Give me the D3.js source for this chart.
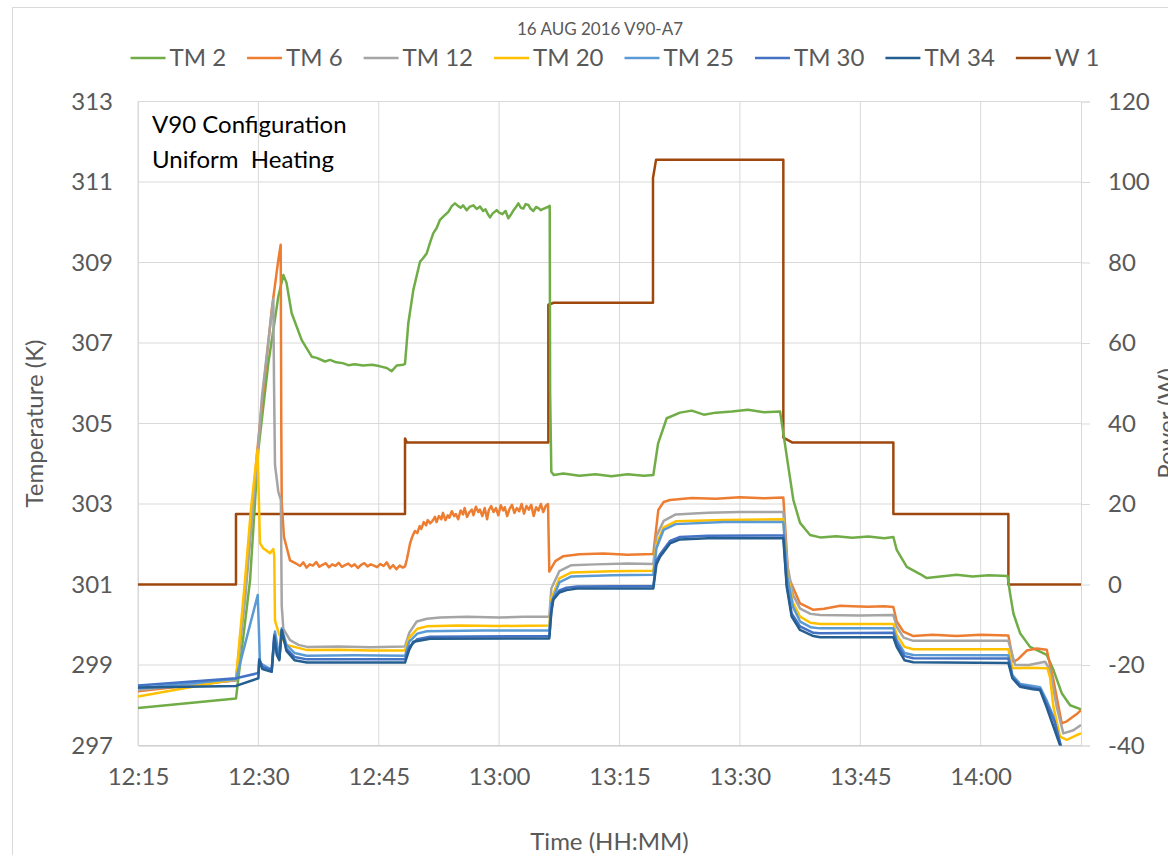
<!DOCTYPE html>
<html>
<head>
<meta charset="utf-8">
<script src="https://cdn.jsdelivr.net/npm/d3@7"></script>
<style>
  body { margin: 0; background: #fff; }
  svg { display: block; font-family: Lato, "Open Sans", sans-serif; }
</style>
</head>
<body>
<svg id="chart" width="1168" height="855"></svg>
<script>
// times are minutes after 12:00
const xTickLabels = ["12:15", "12:30", "12:45", "13:00", "13:15", "13:30", "13:45", "14:00"];
const yTicksLeft = [297, 299, 301, 303, 305, 307, 309, 311, 313];
const yTicksRight = [-40, -20, 0, 20, 40, 60, 80, 100, 120];

const seriesNames = ["TM 2", "TM 6", "TM 12", "TM 20", "TM 25", "TM 30", "TM 34", "W 1"];
const seriesColors = ["#70AD47", "#ED7D31", "#A5A5A5", "#FFC000", "#5B9BD5", "#4472C4", "#255E91", "#9E480E"];

const tm2 = [[15,297.93],[27.21,298.17],[28.96,301.1],[29.99,304.34],[31.24,306.5],[32.48,308.15],[33.11,308.69],[33.5,308.5],[34.15,307.74],[35.4,307.07],[36.65,306.66],[37.27,306.63],[38.3,306.54],[38.93,306.58],[39.7,306.52],[40.5,306.5],[41.2,306.45],[42,306.47],[43.04,306.44],[44.2,306.46],[45.16,306.42],[46,306.38],[46.61,306.3],[47.24,306.44],[48.02,306.46],[48.27,306.48],[48.68,307.49],[49.31,308.32],[50.14,309.02],[50.5,309.1],[50.98,309.23],[51.4,309.5],[51.8,309.73],[52.2,309.85],[52.63,310.06],[53.1,310.15],[53.67,310.26],[54.1,310.4],[54.5,310.47],[54.9,310.4],[55.2,310.36],[55.5,310.42],[55.96,310.3],[56.3,310.38],[56.8,310.42],[57.2,310.33],[57.62,310.39],[58,310.28],[58.3,310.32],[58.6,310.2],[58.86,310.12],[59.2,310.22],[59.7,310.3],[60,310.24],[60.4,310.2],[60.8,310.28],[61.14,310.1],[61.5,310.2],[61.8,310.3],[62.1,310.38],[62.39,310.47],[62.7,310.36],[63.01,310.34],[63.3,310.45],[63.64,310.43],[63.9,310.34],[64.26,310.28],[64.6,310.38],[64.9,310.35],[65.2,310.3],[65.5,310.33],[65.8,310.36],[66.09,310.38],[66.3,310.41],[66.35,305.8],[66.5,303.8],[66.8,303.72],[68,303.76],[70,303.7],[72,303.74],[74,303.69],[76,303.74],[78,303.7],[79.21,303.72],[79.8,304.5],[80.88,305.13],[82.54,305.27],[84,305.32],[85.5,305.22],[87,305.27],[89,305.3],[91,305.34],[93,305.28],[95,305.3],[95.5,304.64],[96.03,303.93],[96.66,303.1],[97.49,302.53],[98.74,302.23],[99.99,302.17],[102,302.2],[104,302.16],[106,302.19],[108,302.15],[109.12,302.18],[109.54,301.86],[110.79,301.44],[112.45,301.26],[113.28,301.16],[115,301.2],[117,301.24],[119,301.2],[121,301.23],[123.35,301.21],[123.66,300.78],[124.08,300.28],[124.91,299.79],[126.15,299.45],[127.4,299.33],[128.23,299.25],[129.06,298.88],[130.1,298.3],[131.14,298.0],[132.5,297.9]];

const tm6 = [[15,298.35],[27.21,298.62],[28.33,300.8],[29.79,304.18],[30.45,305.5],[31.66,307.82],[32.48,309.06],[32.78,309.44],[32.85,305.0],[32.91,303.03],[33.19,302.18],[33.94,301.6],[34.78,301.51],[35.2,301.46],[35.6,301.55],[36,301.42],[36.4,301.5],[36.8,301.47],[37.2,301.56],[37.6,301.44],[38,301.49],[38.4,301.53],[38.8,301.43],[39.2,301.5],[39.6,301.46],[40,301.54],[40.4,301.44],[40.8,301.48],[41.2,301.52],[41.6,301.45],[42,301.5],[42.4,301.41],[42.8,301.49],[43.2,301.53],[43.6,301.45],[44,301.5],[44.4,301.47],[44.8,301.43],[45.2,301.51],[45.6,301.46],[46,301.55],[46.4,301.4],[46.8,301.48],[47.2,301.38],[47.6,301.47],[48,301.42],[48.27,301.45],[48.5,301.62],[48.9,302.02],[49.2,302.2],[49.5,302.33],[49.8,302.28],[50.1,302.45],[50.3,302.38],[50.6,302.55],[50.9,302.47],[51.1,302.6],[51.4,302.52],[51.7,302.58],[52,302.68],[52.2,302.55],[52.5,302.7],[52.8,302.62],[53,302.78],[53.3,302.6],[53.6,302.72],[53.8,302.66],[54.1,302.82],[54.4,302.7],[54.6,302.75],[54.9,302.62],[55.2,302.84],[55.5,302.74],[55.7,302.9],[56,302.68],[56.3,302.8],[56.6,302.86],[56.8,302.72],[57.1,302.93],[57.4,302.8],[57.6,302.86],[57.9,302.7],[58.2,302.9],[58.5,302.62],[58.7,302.84],[59,302.95],[59.3,302.8],[59.6,302.9],[59.9,302.72],[60.2,302.97],[60.5,302.84],[60.7,302.92],[61,302.7],[61.3,302.88],[61.6,302.98],[61.9,302.78],[62.2,302.9],[62.5,302.82],[62.8,303.0],[63.1,302.76],[63.4,302.95],[63.7,302.86],[64,302.98],[64.3,302.7],[64.6,302.92],[64.9,302.84],[65.2,303.0],[65.5,302.8],[65.8,302.95],[66.09,303.0],[66.25,301.32],[67,301.58],[67.96,301.7],[70,301.75],[73,301.77],[76,301.74],[79.21,301.76],[79.83,302.85],[80.5,303.05],[81.29,303.1],[84,303.15],[87,303.13],[90,303.17],[93,303.14],[95.41,303.16],[96.03,301.19],[97.49,300.53],[99.15,300.37],[100.5,300.4],[102.5,300.47],[104,300.46],[106,300.45],[108,300.46],[109.12,300.44],[109.54,300.08],[110.37,299.83],[111.61,299.72],[114,299.75],[117,299.72],[120,299.75],[123.45,299.73],[124.08,299.08],[124.7,299.15],[125.74,299.36],[126.99,299.41],[128.23,299.38],[129.06,298.63],[130.1,297.55],[130.73,297.6],[131.97,297.78],[132.5,297.88]];

const tm12 = [[15,298.38],[27.21,298.62],[28.33,300.6],[29.99,304.45],[30.45,305.68],[31.86,308.1],[31.95,306.0],[32.07,303.97],[32.48,303.31],[32.8,303.1],[32.91,300.47],[33.11,299.9],[33.94,299.62],[35,299.5],[36.06,299.45],[40,299.46],[44,299.44],[48.27,299.46],[48.8,299.8],[49.73,300.08],[51,300.15],[52.63,300.18],[56,300.2],[60,300.18],[63,300.2],[66.25,300.2],[66.5,300.9],[67.5,301.33],[69,301.48],[72,301.5],[76,301.52],[79.21,301.51],[79.6,302.2],[80.5,302.58],[82,302.74],[86,302.78],[90,302.8],[95.41,302.8],[95.9,301.5],[96.6,300.75],[97.5,300.4],[98.8,300.27],[100,300.24],[105,300.23],[109.12,300.24],[109.54,299.95],[110.4,299.68],[111.6,299.6],[117,299.6],[123.45,299.6],[124.29,299.0],[126,299.0],[128.02,299.08],[128.64,298.88],[129.47,297.96],[130.3,297.3],[131.55,297.38],[132.5,297.51]];

const tm20 = [[15,298.22],[27.21,298.65],[28.33,301.1],[29.1,302.93],[29.9,304.35],[30.2,302.03],[30.6,301.9],[31.45,301.78],[31.86,301.88],[31.98,301.7],[32.07,300.1],[32.6,299.75],[33.5,299.5],[36.06,299.37],[40,299.38],[44,299.36],[48.27,299.36],[48.8,299.68],[49.8,299.9],[51,299.96],[55,299.98],[60,299.97],[66.25,299.98],[66.5,300.65],[67.5,301.15],[69,301.3],[74,301.33],[79.21,301.34],[79.6,302.0],[80.5,302.42],[82,302.57],[88,302.6],[95.41,302.62],[95.9,301.3],[96.6,300.55],[97.5,300.2],[98.8,300.05],[100,300.02],[105,300.02],[109.12,300.02],[109.54,299.75],[110.5,299.45],[111.6,299.39],[117,299.39],[123.45,299.39],[123.95,298.92],[126,298.93],[128.3,298.92],[128.64,298.7],[129.06,297.96],[129.89,297.22],[130.73,297.14],[131.97,297.26],[132.5,297.3]];

const tm25 = [[15,298.42],[27.21,298.65],[29.92,300.74],[30.2,299.05],[31.66,298.88],[32.07,299.83],[32.61,299.2],[32.91,299.91],[33.5,299.5],[34.5,299.3],[36.02,299.23],[42,299.24],[48.27,299.23],[48.8,299.58],[49.8,299.78],[51,299.84],[58,299.86],[66.25,299.86],[66.5,300.55],[67.5,301.05],[69,301.2],[74,301.23],[79.21,301.24],[79.6,301.9],[80.5,302.36],[82,302.5],[88,302.55],[95.41,302.55],[95.9,301.2],[96.6,300.45],[97.5,300.08],[98.8,299.94],[100,299.91],[109.12,299.91],[109.54,299.62],[110.5,299.3],[111.6,299.25],[123.45,299.24],[123.95,298.75],[124.9,298.53],[126.5,298.48],[127.4,298.45],[128.2,298.13],[129.06,297.72],[130.1,296.9]];

const tm30 = [[15,298.49],[27.21,298.67],[30,298.8],[30.11,299.15],[30.5,298.95],[31.66,298.88],[31.98,299.75],[32.3,299.3],[32.61,299.15],[32.91,299.85],[33.5,299.4],[34.5,299.2],[36.06,299.14],[48.27,299.14],[48.8,299.45],[49.8,299.64],[51.4,299.7],[66.25,299.72],[66.5,300.35],[66.75,300.66],[67.5,300.85],[68.4,300.92],[69.7,300.95],[79.21,300.96],[79.6,301.6],[80.05,301.75],[81.29,302.08],[82.54,302.18],[86,302.21],[95.41,302.22],[95.83,301.0],[96.45,300.28],[97.49,299.96],[99.15,299.8],[100,299.79],[109.12,299.8],[109.54,299.55],[110.5,299.22],[111.6,299.17],[123.45,299.16],[123.95,298.7],[124.9,298.5],[126.5,298.43],[127.4,298.4],[128.2,298.05],[129.2,297.6],[130.1,296.9]];

const tm34 = [[15,298.44],[27.21,298.48],[30,298.67],[30.11,299.12],[30.5,298.9],[31.66,298.83],[31.98,299.7],[32.3,299.25],[32.61,299.12],[32.91,299.87],[33.5,299.35],[34.5,299.12],[36.06,299.06],[48.27,299.06],[48.8,299.38],[49.31,299.58],[51.39,299.65],[66.25,299.66],[66.5,300.3],[66.75,300.62],[67.5,300.8],[68.4,300.86],[69.7,300.9],[79.21,300.9],[79.6,301.5],[80.05,301.69],[81.29,302.02],[82.54,302.12],[86,302.15],[95.41,302.15],[95.83,300.95],[96.45,300.2],[97.49,299.87],[99.15,299.72],[100,299.69],[109.12,299.69],[109.54,299.45],[110.5,299.12],[111.6,299.07],[123.45,299.05],[123.95,298.67],[124.9,298.46],[126.5,298.4],[127.4,298.38],[128.2,297.96],[129.9,297.0],[130.5,296.7]];

const w1 = [[15,0],[27.21,0],[27.21,17.5],[48.27,17.5],[48.27,36.3],[48.5,35.3],[66.13,35.3],[66.13,69.5],[66.8,70],[79.17,70],[79.17,101],[79.55,105.5],[95.41,105.5],[95.41,36.5],[96.5,35.3],[109.12,35.3],[109.12,17.5],[123.45,17.5],[123.45,0],[132.5,0]];

const tempSeries = [tm2, tm6, tm12, tm20, tm25, tm30, tm34];

const toMinutes = s => { const [h, m] = s.split(":").map(Number); return (h - 12) * 60 + m; };

const plot = {left: 138, right: 1081, top: 101.5, bottom: 745.5};
const textColor = "#595959";
const gridColor = "#d9d9d9";

const svg = d3.select("#chart");

svg.append("rect")
    .attr("x", 12.5).attr("y", 7.5)
    .attr("width", 1300).attr("height", 1000)
    .attr("fill", "#fff")
    .attr("stroke", gridColor);

const x = d3.scaleLinear().domain([15, 132.5]).range([plot.left, plot.right]);
const y = d3.scaleLinear().domain([297, 313]).range([plot.bottom, plot.top]);
const y2 = d3.scaleLinear().domain([-40, 120]).range([plot.bottom, plot.top]);

// gridlines
svg.append("g")
    .selectAll("line")
    .data(yTicksLeft)
    .join("line")
    .attr("x1", plot.left).attr("x2", plot.right)
    .attr("y1", d => y(d)).attr("y2", d => y(d))
    .attr("stroke", gridColor).attr("stroke-width", 1);

svg.append("g")
    .selectAll("line")
    .data(xTickLabels.map(toMinutes))
    .join("line")
    .attr("x1", d => x(d)).attr("x2", d => x(d))
    .attr("y1", plot.top).attr("y2", plot.bottom)
    .attr("stroke", gridColor).attr("stroke-width", 1);

// axes
const xAxis = d3.axisBottom(x)
    .tickValues(xTickLabels.map(toMinutes))
    .tickFormat((d, i) => xTickLabels[i])
    .tickSize(0).tickPadding(22);

const gx = svg.append("g")
    .attr("transform", `translate(0,${plot.bottom})`)
    .call(xAxis);
gx.select(".domain").attr("stroke", "#c8c8c8");
gx.selectAll("text").attr("fill", textColor).style("font-size", "24px").style("font-family", "Lato");

const gy = svg.append("g")
    .attr("transform", `translate(${plot.left},0)`)
    .call(d3.axisLeft(y).tickValues(yTicksLeft).tickFormat(d3.format("d")).tickSize(0).tickPadding(25));
gy.select(".domain").attr("stroke", gridColor);
gy.selectAll("text").attr("fill", textColor).style("font-size", "24px").style("font-family", "Lato");

const gy2 = svg.append("g")
    .attr("transform", `translate(${plot.right},0)`)
    .call(d3.axisRight(y2).tickValues(yTicksRight).tickFormat(d3.format("d")).tickSize(9).tickPadding(18));
gy2.select(".domain").attr("stroke", gridColor);
gy2.selectAll(".tick line").attr("stroke", gridColor);
gy2.selectAll("text").attr("fill", textColor).style("font-size", "24px").style("font-family", "Lato")
    .text(d => d < 0 ? "-" + Math.abs(d) : d);

// clip
svg.append("clipPath").attr("id", "plot-clip")
    .append("rect")
    .attr("x", plot.left).attr("y", plot.top)
    .attr("width", plot.right - plot.left).attr("height", plot.bottom - plot.top);

const lines = svg.append("g").attr("clip-path", "url(#plot-clip)");

const powerLine = d3.line()
    .x(d => x(d[0]))
    .y(d => y2(d[1]));

lines.append("path")
    .datum(w1)
    .attr("fill", "none")
    .attr("stroke", seriesColors[7])
    .attr("stroke-width", 2.5)
    .attr("stroke-linejoin", "round")
    .attr("d", powerLine);

const tempLine = d3.line()
    .x(d => x(d[0]))
    .y(d => y(d[1]));

tempSeries.forEach((s, i) => {
    lines.append("path")
        .datum(s)
        .attr("fill", "none")
        .attr("stroke", seriesColors[i])
        .attr("stroke-width", 2.5)
        .attr("stroke-linejoin", "round")
        .attr("d", tempLine);
});

// title
svg.append("text")
    .attr("x", 600).attr("y", 35)
    .attr("text-anchor", "middle")
    .attr("fill", textColor)
    .style("font-size", "17px")
    .text("16 AUG 2016 V90-A7");

// legend
const legend = svg.append("g");
const items = legend.selectAll("g")
    .data(seriesNames)
    .join("g");
items.append("line")
    .attr("x1", 0).attr("x2", 35)
    .attr("y1", 58).attr("y2", 58)
    .attr("stroke", (d, i) => seriesColors[i])
    .attr("stroke-width", 2.5);
items.append("text")
    .attr("x", 39).attr("y", 66)
    .attr("fill", textColor)
    .style("font-size", "24px")
    .text(d => d);

let offset = 0;
const widths = [];
items.each(function() {
    widths.push(d3.select(this).select("text").node().getComputedTextLength());
});
const gap = 21;
const total = d3.sum(widths) + widths.length * 39 + (widths.length - 1) * gap;
const start = 615 - total / 2;
items.attr("transform", (d, i) => {
    const t = `translate(${start + offset},0)`;
    offset += 39 + widths[i] + gap;
    return t;
});

// annotation
const note = svg.append("text")
    .attr("x", 152).attr("y", 133)
    .attr("fill", "#000")
    .style("font-size", "24px")
    .style("white-space", "pre");
note.append("tspan").attr("x", 152).text("V90 Configuration");
note.append("tspan").attr("x", 152).attr("dy", 34.5).text("Uniform  Heating");

// axis titles
svg.append("text")
    .attr("transform", `translate(43,${(plot.top + plot.bottom) / 2}) rotate(-90)`)
    .attr("text-anchor", "middle")
    .attr("fill", textColor)
    .style("font-size", "24px")
    .text("Temperature (K)");

svg.append("text")
    .attr("transform", `translate(1175,${(plot.top + plot.bottom) / 2}) rotate(-90)`)
    .attr("text-anchor", "middle")
    .attr("fill", textColor)
    .style("font-size", "24px")
    .text("Power (W)");

svg.append("text")
    .attr("x", (plot.left + plot.right) / 2).attr("y", 850)
    .attr("text-anchor", "middle")
    .attr("fill", textColor)
    .style("font-size", "24px")
    .text("Time (HH:MM)");
</script>
</body>
</html>
